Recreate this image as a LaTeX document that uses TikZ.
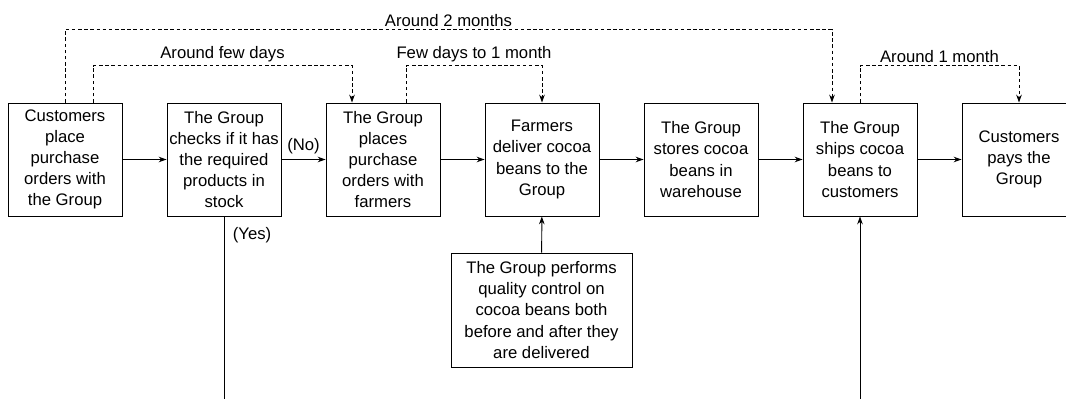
\documentclass[tikz,border=0pt]{standalone}
\usepackage{fontspec}
\setmainfont{Liberation Sans}
\usetikzlibrary{arrows.meta}
\begin{document}
\begin{tikzpicture}
		[x=0.2mm, y=-0.2mm, line width=0.55pt, >={Stealth[length=4.5pt, width=3.2pt]},
		every node/.style={inner sep=0pt, font=\fontsize{9.5}{12}\selectfont, align=center},
		stepbox/.style={draw, minimum width=22.8mm, minimum height=22.6mm},
		wait/.style={dash pattern=on 2pt off 1.5pt}]
		\useasboundingbox (0,0) rectangle (1066,399);
		\node[stepbox] (order) at (65,159.5) {Customers\\place\\purchase\\orders with\\the Group};
		\node[stepbox] (check) at (224,159.5) {The Group\\checks if it has\\the required\\products in\\stock};
		\node[stepbox] (buy) at (383,159.5) {The Group\\places\\purchase\\orders with\\farmers};
		\node[stepbox] (deliver) at (542,159.5) {Farmers\\deliver cocoa\\beans to the\\Group};
		\node[stepbox] (store) at (701,159.5) {The Group\\stores cocoa\\beans in\\warehouse};
		\node[stepbox] (ship) at (860,159.5) {The Group\\ships cocoa\\beans to\\customers};
		\node[stepbox] (pay) at (1019,159.5) {Customers\\pays the\\Group};
		\node[stepbox, minimum width=36.2mm, minimum height=22.8mm] (qc) at (541.5,310) {The Group performs\\quality control on\\cocoa beans both\\before and after they\\are delivered};
		\node (yes) at (252,235) {(Yes)};
		\coordinate (stockout) at (224,399);
		\coordinate (shipin) at (860,399);
		
		\path[->] (order) edge (check);
		\path[->] (check) edge node[above=3pt] {(No)} (buy);
		\path[->] (buy) edge (deliver);
		\path[->] (deliver) edge (store);
		\path[->] (store) edge (ship);
		\path[->] (ship) edge (pay);
		\path[->] (qc) edge (deliver);
		\path[->] (shipin) edge (ship);
		\draw (check) -- (stockout);
		
		\draw[->, wait] (order.north) -- ++(0,-73) -| node[pos=0.25, above=1.5pt] {Around 2 months} ([xshift=-5.6mm]ship.north);
		\draw[->, wait] ([xshift=5.6mm]order.north) -- ++(0,-37) -| node[pos=0.25, above=1.5pt] {Around few days} ([xshift=-6.2mm]buy.north);
		\draw[->, wait] ([xshift=4.6mm]buy.north) -- ++(0,-37) -| node[pos=0.25, above=1.5pt] {Few days to 1 month} (deliver.north);
		\draw[->, wait] (ship.north) -- ++(0,-37) -| node[pos=0.25, above=1.5pt] {Around 1 month} (pay.north);
		\end{tikzpicture}
\end{document}
